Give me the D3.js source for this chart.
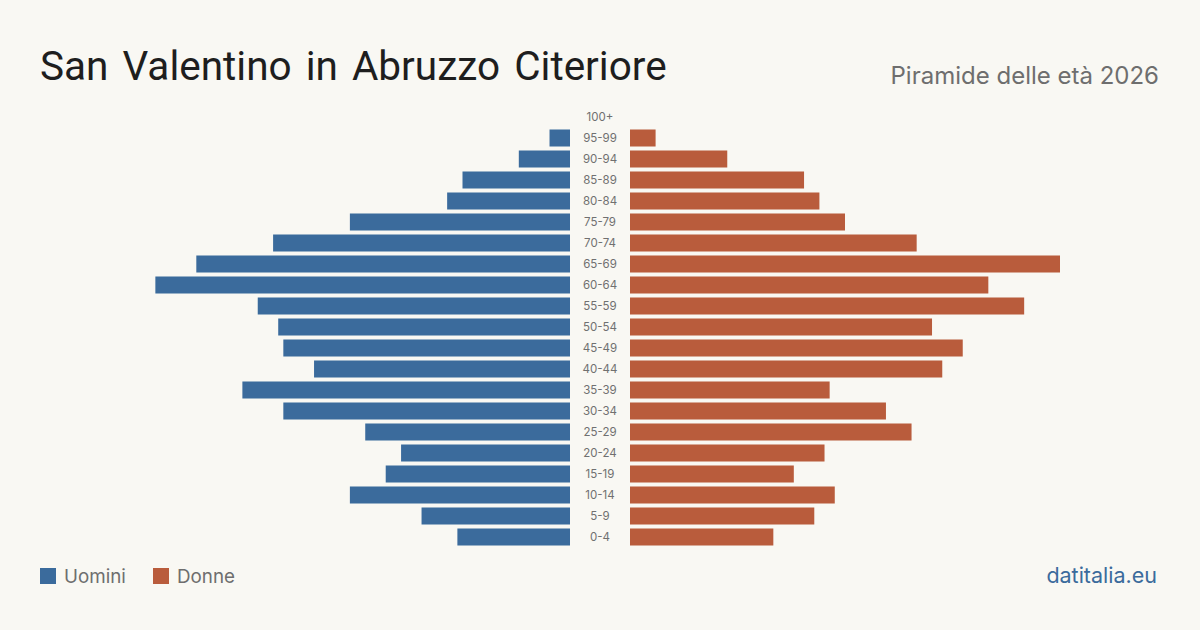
<!DOCTYPE html>
<html>
<head>
<meta charset="utf-8">
<script src="https://cdn.jsdelivr.net/npm/d3@7"></script>
<style>
  html, body { margin: 0; padding: 0; background: #f9f8f3; }
  svg { display: block; font-family: Inter, "Noto Sans", sans-serif; }
</style>
</head>
<body>
<div class="vis-pyramid"></div>
<script>
const ageGroups = ['100+', '95-99', '90-94', '85-89', '80-84', '75-79', '70-74', '65-69', '60-64', '55-59',
  '50-54', '45-49', '40-44', '35-39', '30-34', '25-29', '20-24', '15-19', '10-14', '5-9', '0-4'];
const men = [0, 4, 10, 21, 24, 43, 58, 73, 81, 61, 57, 56, 50, 64, 56, 40, 33, 36, 43, 29, 22];
const women = [0, 5, 19, 34, 37, 42, 56, 84, 70, 77, 59, 65, 61, 39, 50, 55, 38, 32, 40, 36, 28];
const legendLabels = ['Uomini', 'Donne'];

const colors = { men: '#3b6b9c', women: '#b95c3c' };
const width = 1200;
const height = 630;
const center = 600;
const gap = 30;
const barMax = 430;

const svg = d3.select('.vis-pyramid')
  .append('svg')
  .attr('width', width)
  .attr('height', height);

svg.append('rect').attr('width', width).attr('height', height).attr('fill', '#f9f8f3');

// titles
svg.append('text')
  .attr('x', 40).attr('y', 80)
  .attr('font-family', 'Roboto, sans-serif')
  .attr('font-size', 40.5)
  .attr('word-spacing', 4)
  .attr('fill', '#1e1e1e')
  .text('San Valentino in Abruzzo Citeriore');

svg.append('text')
  .attr('x', 1159).attr('y', 84)
  .attr('text-anchor', 'end')
  .attr('font-size', 24)
  .attr('fill', '#6e6e6e')
  .text('Piramide delle età 2026');

// scales
const maxVal = d3.max([...men, ...women]);
const x = d3.scaleLinear().domain([0, maxVal]).range([0, barMax]);
const y = d3.scaleBand().domain(ageGroups).range([106.5, 547.5]).paddingInner(0.19).paddingOuter(0.095);

const rows = ageGroups.map((g, i) => ({ group: g, men: men[i], women: women[i] }));

svg.selectAll('.bar-men')
  .data(rows)
  .enter()
  .append('rect')
  .attr('class', 'bar-men')
  .attr('x', (d) => center - gap - x(d.men))
  .attr('y', (d) => y(d.group))
  .attr('width', (d) => x(d.men))
  .attr('height', y.bandwidth())
  .attr('fill', colors.men);

svg.selectAll('.bar-women')
  .data(rows)
  .enter()
  .append('rect')
  .attr('class', 'bar-women')
  .attr('x', center + gap)
  .attr('y', (d) => y(d.group))
  .attr('width', (d) => x(d.women))
  .attr('height', y.bandwidth())
  .attr('fill', colors.women);

svg.selectAll('.age-label')
  .data(rows)
  .enter()
  .append('text')
  .attr('class', 'age-label')
  .attr('x', center)
  .attr('y', (d) => y(d.group) + y.bandwidth() / 2)
  .attr('dy', '0.35em')
  .attr('text-anchor', 'middle')
  .attr('font-size', 11.5)
  .attr('fill', '#707070')
  .text((d) => d.group);

// legend
const legend = svg.append('g').attr('transform', 'translate(40,568)');
legendLabels.forEach((label, i) => {
  const g = legend.append('g').attr('transform', `translate(${i * 113},0)`);
  g.append('rect').attr('width', 16).attr('height', 16).attr('fill', i === 0 ? colors.men : colors.women);
  g.append('text')
    .attr('x', 24).attr('y', 8)
    .attr('dy', '0.35em')
    .attr('font-size', 18.8)
    .attr('fill', '#6e6e6e')
    .text(label);
});

svg.append('text')
  .attr('x', 1157).attr('y', 583)
  .attr('text-anchor', 'end')
  .attr('font-size', 21.5)
  .attr('fill', '#3b6b9c')
  .text('datitalia.eu');
</script>
</body>
</html>
